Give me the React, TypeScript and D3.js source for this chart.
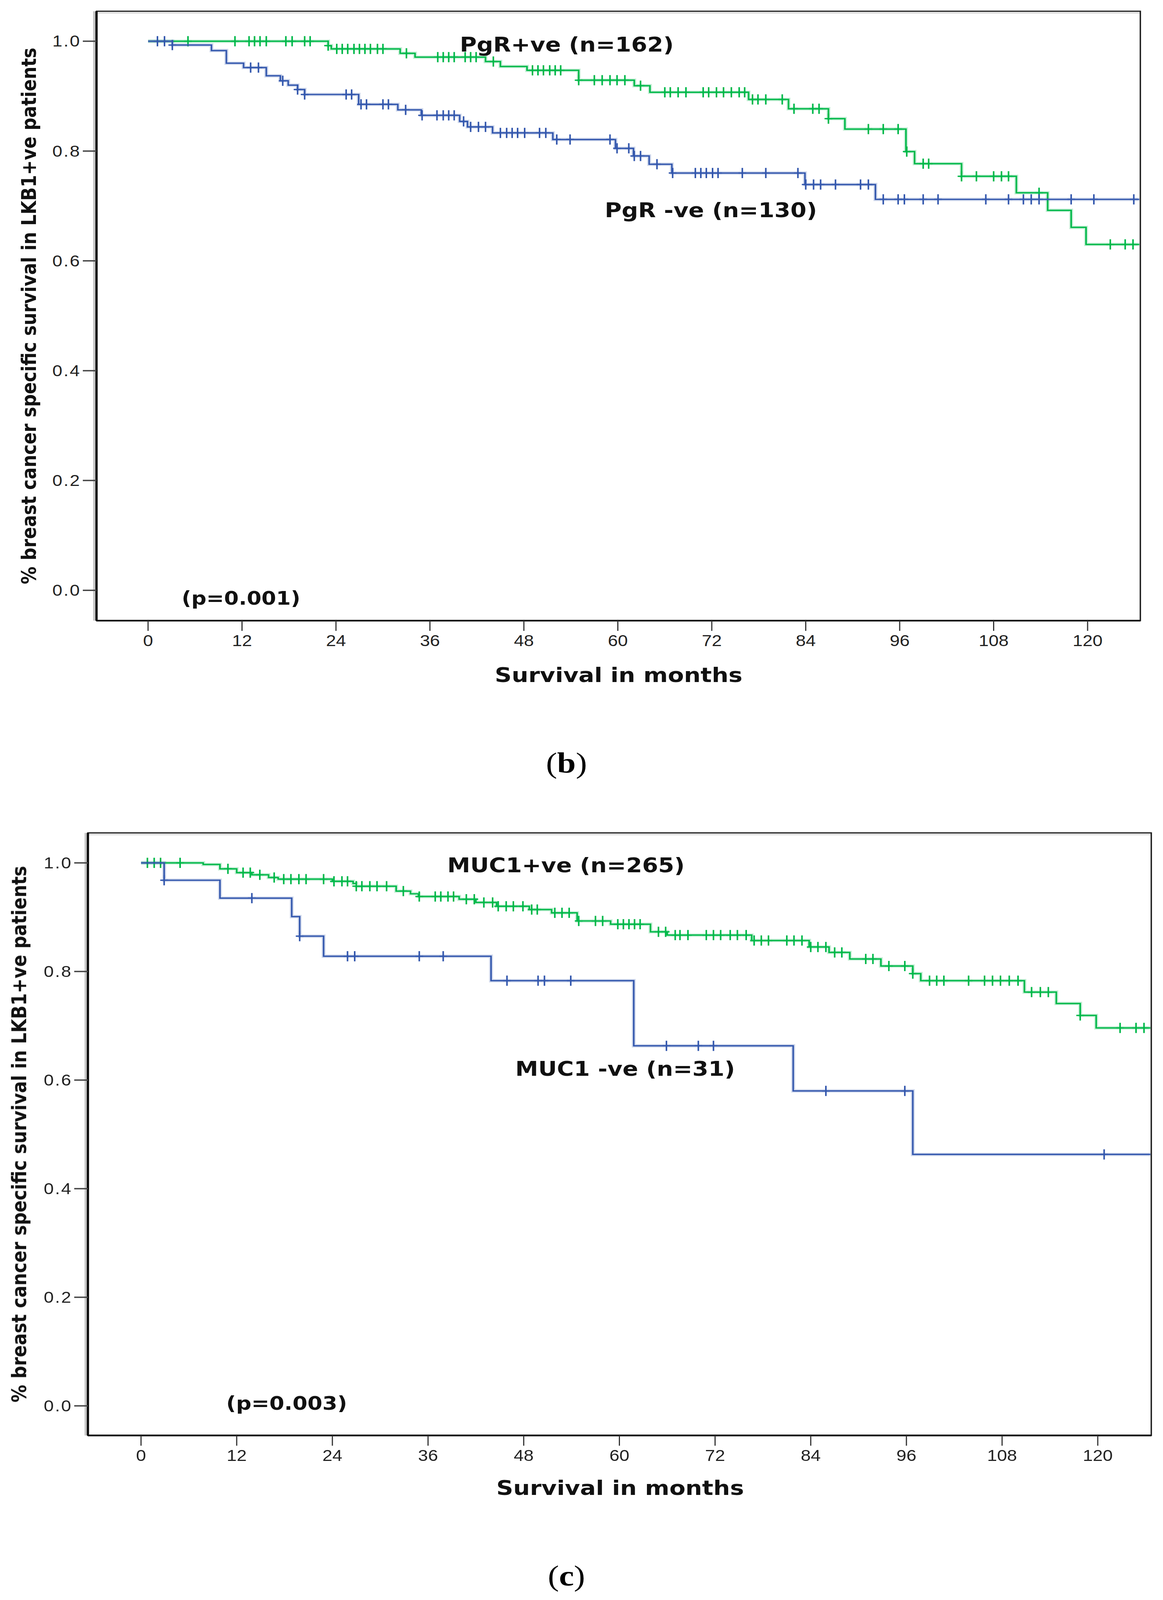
import { useEffect, useRef } from 'react';
import * as d3 from 'd3';

/**
 * Kaplan-Meier curves, LKB1+ve patients
 * (b) PgR+ve vs PgR -ve, (c) MUC1+ve vs MUC1 -ve
 */

// ---- data ----
const monthTicks = [0, 12, 24, 36, 48, 60, 72, 84, 96, 108, 120];
const survivalTicks = [0, 0.2, 0.4, 0.6, 0.8, 1.0];
const followUpEnd = 126.6;

// (b) PgR+ve
const pgrPosEventMonths = [23.0, 23.4, 32.2, 34.1, 43.1, 45.0, 48.4, 55.0, 62.1, 64.1, 76.7, 81.8, 86.9, 89.0, 96.8, 97.9, 103.9, 110.9, 114.9, 117.9, 119.8];
const pgrPosSurvival = [0.992, 0.986, 0.978, 0.971, 0.963, 0.954, 0.947, 0.929, 0.919, 0.907, 0.894, 0.877, 0.859, 0.840, 0.799, 0.777, 0.754, 0.724, 0.692, 0.661, 0.630];
const pgrPosCensored = [5.1, 11.1, 12.9, 13.6, 14.3, 15.1, 17.6, 18.4, 20.0, 20.7, 23.0, 24.1, 24.8, 25.5, 26.3, 27.0, 27.7, 28.4, 29.3, 30.0, 33.0, 37.0, 37.7, 38.4, 39.1, 40.5, 41.2, 41.9, 44.1, 49.1, 49.8, 50.5, 51.3, 52.0, 52.7, 55.0, 57.0, 58.0, 59.0, 59.9, 60.9, 62.9, 66.0, 66.7, 67.7, 68.7, 70.9, 71.6, 72.6, 73.5, 74.5, 75.5, 76.2, 77.2, 77.9, 78.9, 81.0, 82.5, 84.9, 85.7, 86.9, 92.0, 93.9, 95.8, 96.9, 99.0, 99.7, 103.9, 105.8, 108.0, 109.0, 109.9, 113.8, 122.9, 124.8, 125.8];

// (b) PgR -ve
const pgrNegEventMonths = [3.1, 8.1, 10.0, 12.2, 15.1, 16.9, 17.9, 19.1, 20.0, 26.9, 31.9, 34.9, 39.8, 40.8, 44.0, 51.7, 59.7, 62.0, 64.0, 66.9, 83.9, 92.9];
const pgrNegSurvival = [0.993, 0.983, 0.960, 0.952, 0.937, 0.928, 0.920, 0.912, 0.903, 0.885, 0.875, 0.865, 0.854, 0.844, 0.833, 0.821, 0.805, 0.791, 0.776, 0.760, 0.739, 0.712];
const pgrNegCensored = [1.2, 2.1, 3.1, 13.1, 14.1, 17.2, 19.1, 20.0, 25.3, 26.0, 27.2, 27.9, 30.0, 30.7, 32.9, 35.0, 36.9, 37.7, 38.4, 39.1, 40.3, 41.2, 42.2, 43.1, 45.0, 45.8, 46.5, 47.2, 48.1, 50.0, 50.8, 52.2, 53.9, 59.0, 59.9, 61.4, 62.1, 62.9, 65.0, 67.0, 69.9, 70.6, 71.3, 72.1, 72.8, 75.9, 78.9, 83.0, 84.0, 85.0, 85.9, 87.8, 91.0, 92.0, 93.9, 95.8, 96.6, 99.0, 100.9, 107.0, 109.9, 111.8, 112.8, 113.8, 117.9, 120.8, 125.9];

// (c) MUC1+ve
const mucPosEventMonths = [7.8, 9.9, 12.0, 13.9, 16.0, 17.2, 24.0, 26.6, 27.0, 32.0, 33.8, 34.8, 39.9, 42.0, 44.6, 48.7, 51.5, 54.7, 58.9, 63.9, 66.0, 76.6, 83.8, 86.3, 88.9, 92.8, 96.8, 97.8, 110.8, 114.8, 117.8, 119.8];
const mucPosSurvival = [0.997, 0.989, 0.982, 0.978, 0.973, 0.970, 0.966, 0.962, 0.957, 0.948, 0.943, 0.938, 0.933, 0.927, 0.920, 0.914, 0.908, 0.893, 0.887, 0.873, 0.867, 0.857, 0.845, 0.835, 0.823, 0.810, 0.796, 0.783, 0.762, 0.741, 0.719, 0.696];
const mucPosCensored = [0.8, 1.65, 2.45, 4.9, 10.9, 12.8, 13.7, 14.9, 16.7, 17.9, 18.8, 19.8, 20.7, 22.9, 24.2, 25.2, 25.9, 27.0, 27.7, 28.7, 29.6, 30.8, 32.9, 34.9, 36.9, 37.6, 38.5, 39.2, 40.8, 41.8, 43.0, 44.1, 44.8, 45.8, 46.7, 47.9, 49.0, 49.7, 51.9, 52.8, 53.7, 54.9, 57.0, 57.9, 59.8, 60.5, 61.2, 61.9, 62.6, 64.9, 65.8, 67.0, 67.6, 68.6, 70.9, 71.8, 72.7, 73.9, 74.8, 75.9, 76.9, 77.8, 78.7, 81.0, 81.9, 82.9, 84.0, 84.9, 85.9, 87.0, 87.9, 90.9, 91.8, 93.8, 95.8, 96.8, 98.9, 99.8, 100.7, 103.8, 105.8, 106.8, 107.8, 108.9, 110.0, 111.7, 112.8, 113.8, 117.8, 122.8, 124.8, 125.8];

// (c) MUC1 -ve
const mucNegEventMonths = [2.9, 9.9, 18.9, 19.9, 22.9, 43.9, 61.8, 81.8, 96.8];
const mucNegSurvival = [0.968, 0.935, 0.901, 0.865, 0.828, 0.783, 0.663, 0.580, 0.463];
const mucNegCensored = [2.9, 13.9, 19.9, 25.9, 26.8, 34.9, 37.9, 45.9, 49.8, 50.6, 53.9, 65.9, 69.9, 71.8, 85.9, 95.8, 120.8];

// ---- styling ----
const W = 2977;
const H = 4697;
const GREEN = '#00b849';
const BLUE = '#3357ad';
const TICK_FONT = '"Liberation Sans Narrow", "Arial Narrow", "Liberation Sans", Arial, sans-serif';
const TITLE_FONT = '"DejaVu Sans", Verdana, sans-serif';
const CAPTION_FONT = '"Liberation Serif", "Times New Roman", serif';

interface Curve {
  events: number[];
  survival: number[];
  censored: number[];
  color: string;
}

interface Panel {
  frame: { left: number; right: number; top: number; bottom: number };
  xRange: [number, number];
  yRange: [number, number];
  curves: Curve[];
  labels: { text: string; x: number; y: number; size: number }[];
  yTitleX: number;
  xTitleY: number;
  caption: string;
  captionY: number;
}

const panels: Panel[] = [
  {
    frame: { left: 247, right: 2919, top: 33, bottom: 1822 },
    xRange: [379, 2784],
    yRange: [1733, 121],
    curves: [
      { events: pgrPosEventMonths, survival: pgrPosSurvival, censored: pgrPosCensored, color: GREEN },
      { events: pgrNegEventMonths, survival: pgrNegSurvival, censored: pgrNegCensored, color: BLUE },
    ],
    labels: [
      { text: 'PgR+ve (n=162)', x: 1177, y: 151, size: 59 },
      { text: 'PgR -ve (n=130)', x: 1548, y: 638, size: 59 },
      { text: '(p=0.001)', x: 465, y: 1775, size: 54 },
    ],
    yTitleX: 92,
    xTitleY: 2002,
    caption: 'b',
    captionY: 2268,
  },
  {
    frame: { left: 225, right: 2947, top: 2445, bottom: 4214 },
    xRange: [361, 2810],
    yRange: [4127, 2533],
    curves: [
      { events: mucPosEventMonths, survival: mucPosSurvival, censored: mucPosCensored, color: GREEN },
      { events: mucNegEventMonths, survival: mucNegSurvival, censored: mucNegCensored, color: BLUE },
    ],
    labels: [
      { text: 'MUC1+ve (n=265)', x: 1145, y: 2561, size: 59 },
      { text: 'MUC1 -ve (n=31)', x: 1319, y: 3158, size: 59 },
      { text: '(p=0.003)', x: 579, y: 4139, size: 55 },
    ],
    yTitleX: 67,
    xTitleY: 4389,
    caption: 'c',
    captionY: 4655,
  },
];

function levelAt(curve: Curve, t: number) {
  let s = 1;
  curve.events.forEach((e, i) => {
    if (e <= t) s = curve.survival[i];
  });
  return s;
}

export default function App() {
  const svgRef = useRef<SVGSVGElement>(null);

  useEffect(() => {
    if (!svgRef.current) return;
    document.body.style.margin = '0';
    document.body.style.overflow = 'hidden';

    const svg = d3.select(svgRef.current);
    svg.selectAll('*').remove();

    svg.append('rect').attr('width', W).attr('height', H).attr('fill', '#fff');

    panels.forEach((p) => {
      const g = svg.append('g');
      const x = d3.scaleLinear().domain([0, 120]).range(p.xRange);
      const y = d3.scaleLinear().domain([0, 1]).range(p.yRange);
      const f = p.frame;

      // frame
      g.append('line')
        .attr('x1', f.left).attr('x2', f.right)
        .attr('y1', f.top + 5).attr('y2', f.top + 5)
        .attr('stroke', '#ddd').attr('stroke-width', 4);
      g.append('line')
        .attr('x1', f.left - 6).attr('x2', f.left - 6)
        .attr('y1', f.top).attr('y2', f.bottom)
        .attr('stroke', '#c4c4c4').attr('stroke-width', 5);
      g.append('rect')
        .attr('x', f.left).attr('y', f.top)
        .attr('width', f.right - f.left).attr('height', f.bottom - f.top)
        .attr('fill', 'none').attr('stroke', '#1a1a1a').attr('stroke-width', 3.5);
      g.append('line')
        .attr('x1', f.left).attr('x2', f.left)
        .attr('y1', f.top).attr('y2', f.bottom)
        .attr('stroke', '#111').attr('stroke-width', 6);
      g.append('line')
        .attr('x1', f.left).attr('x2', f.right)
        .attr('y1', f.bottom).attr('y2', f.bottom)
        .attr('stroke', '#111').attr('stroke-width', 5);

      // y axis ticks
      const yt = g.selectAll('.ytick').data(survivalTicks).enter().append('g');
      yt.append('line')
        .attr('x1', f.left - 35).attr('x2', f.left)
        .attr('y1', (d) => y(d)).attr('y2', (d) => y(d))
        .attr('stroke', '#444').attr('stroke-width', 4);
      yt.append('text')
        .attr('x', f.left - 40)
        .attr('y', (d) => y(d) + 16)
        .attr('text-anchor', 'end')
        .attr('font-family', TICK_FONT)
        .attr('font-size', 46)
        .attr('letter-spacing', 3)
        .attr('fill', '#222')
        .text((d) => d3.format('.1f')(d));

      // x axis ticks
      const xt = g.selectAll('.xtick').data(monthTicks).enter().append('g');
      xt.append('line')
        .attr('x1', (d) => x(d)).attr('x2', (d) => x(d))
        .attr('y1', f.bottom).attr('y2', f.bottom + 30)
        .attr('stroke', '#333').attr('stroke-width', 3);
      xt.append('text')
        .attr('x', (d) => x(d))
        .attr('y', f.bottom + 75)
        .attr('text-anchor', 'middle')
        .attr('font-family', TICK_FONT)
        .attr('font-size', 46)
        .attr('fill', '#222')
        .text((d) => String(d));

      // curves
      const line = d3
        .line<[number, number]>()
        .x((d) => x(d[0]))
        .y((d) => y(d[1]))
        .curve(d3.curveStepAfter);

      p.curves.forEach((c) => {
        const pts: [number, number][] = [[0, 1]];
        c.events.forEach((e, i) => pts.push([e, c.survival[i]]));
        pts.push([followUpEnd, c.survival[c.survival.length - 1]]);

        g.append('path')
          .attr('d', line(pts))
          .attr('fill', 'none')
          .attr('stroke', c.color)
          .attr('stroke-opacity', 0.22)
          .attr('stroke-width', 10);
        g.append('path')
          .attr('d', line(pts))
          .attr('fill', 'none')
          .attr('stroke', c.color)
          .attr('stroke-width', 4);

        const marks = g.append('g').attr('stroke', c.color).attr('stroke-width', 4);
        marks.selectAll('.cv')
          .data(c.censored)
          .enter()
          .append('line')
          .attr('x1', (t) => x(t)).attr('x2', (t) => x(t))
          .attr('y1', (t) => y(levelAt(c, t)) - 15)
          .attr('y2', (t) => y(levelAt(c, t)) + 15);
        marks.selectAll('.ch')
          .data(c.censored)
          .enter()
          .append('line')
          .attr('x1', (t) => x(t) - 10).attr('x2', (t) => x(t) + 10)
          .attr('y1', (t) => y(levelAt(c, t)))
          .attr('y2', (t) => y(levelAt(c, t)));
      });

      // annotations
      p.labels.forEach((l) => {
        g.append('text')
          .attr('x', l.x).attr('y', l.y)
          .attr('font-family', TITLE_FONT)
          .attr('font-weight', 'bold')
          .attr('font-size', l.size)
          .attr('fill', '#111')
          .text(l.text);
      });

      // axis titles
      g.append('text')
        .attr('transform', `translate(${p.yTitleX},${(f.top + f.bottom) / 2}) rotate(-90)`)
        .attr('text-anchor', 'middle')
        .attr('font-family', TITLE_FONT)
        .attr('font-weight', 'bold')
        .attr('font-size', 52)
        .attr('fill', '#111')
        .text('% breast cancer specific survival in LKB1+ve patients');

      g.append('text')
        .attr('x', (p.xRange[0] + p.xRange[1]) / 2 + 2)
        .attr('y', p.xTitleY)
        .attr('text-anchor', 'middle')
        .attr('font-family', TITLE_FONT)
        .attr('font-weight', 'bold')
        .attr('font-size', 60)
        .attr('fill', '#111')
        .text('Survival in months');

      // panel caption
      const cap = g.append('text')
        .attr('x', 1450)
        .attr('y', p.captionY)
        .attr('text-anchor', 'middle')
        .attr('font-family', CAPTION_FONT)
        .attr('font-size', 86)
        .attr('fill', '#000');
      cap.append('tspan').text('(');
      cap.append('tspan').attr('font-weight', 'bold').text(p.caption);
      cap.append('tspan').text(')');
    });
  }, []);

  return (
    <svg
      ref={svgRef}
      viewBox={`0 0 ${W} ${H}`}
      preserveAspectRatio="none"
      style={{ position: 'fixed', left: 0, top: 0, width: '100vw', height: '100vh', display: 'block' }}
    />
  );
}
